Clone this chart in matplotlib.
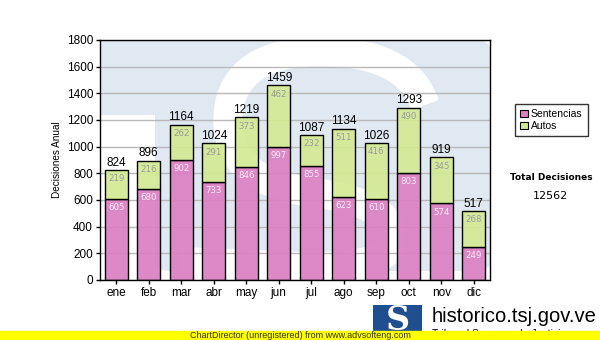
import matplotlib
matplotlib.use('Agg')
import matplotlib.pyplot as plt
from matplotlib.patches import Rectangle, FancyBboxPatch, PathPatch
from matplotlib.path import Path
from matplotlib.colors import to_rgba
import numpy as np

MONTHS = ['ene', 'feb', 'mar', 'abr', 'may', 'jun', 'jul', 'ago', 'sep', 'oct', 'nov', 'dic']
SENTENCIAS = [605, 680, 902, 733, 846, 997, 855, 623, 610, 803, 574, 249]
AUTOS = [219, 216, 262, 291, 373, 462, 232, 511, 416, 490, 345, 268]
Y_TICKS = [0, 200, 400, 600, 800, 1000, 1200, 1400, 1600, 1800]

PINK = '#dc7fc3'
GREEN = '#d3ea94'
WATERMARK = '#e0e9f2'

plt.rcParams['font.family'] = ['Liberation Sans', 'DejaVu Sans']

fig = plt.figure(figsize=(6, 3.4), dpi=100)
ax = fig.add_axes([100 / 600, 1 - 280 / 340, 390 / 600, 240 / 340])


def px(x, y):
    # pixel of the picture -> axes fraction
    return ((x - 100) / 390, (280 - y) / 240)


# watermark logo behind the bars (blue box with a white S)
ax.add_patch(Rectangle(px(100, 115), 0.2, 75 / 240, transform=ax.transAxes,
                       color=WATERMARK, lw=0, zorder=0))
box = FancyBboxPatch(px(155, 271), 335 / 390, 231 / 240, boxstyle='round,pad=0,rounding_size=0.04',
                     transform=ax.transAxes, color=WATERMARK, lw=0, zorder=0)
ax.add_patch(box)
s_pts = [(425, 105), (410, 60), (360, 50), (310, 52),
         (255, 54), (228, 80), (228, 120),
         (228, 165), (260, 185), (310, 192),
         (370, 200), (392, 215), (392, 240),
         (392, 265), (340, 268), (290, 266),
         (240, 264), (200, 262), (180, 262)]
s_codes = [Path.MOVETO] + [Path.CURVE4] * (len(s_pts) - 1)
s_path = Path([px(*p) for p in s_pts], s_codes)
s_patch = PathPatch(s_path, transform=ax.transAxes, fill=False, edgecolor='white',
                    lw=21, capstyle='butt', zorder=0.5)
ax.add_patch(s_patch)
s_patch.set_clip_path(box)

x = np.arange(len(MONTHS))
sent = np.array(SENTENCIAS)
aut = np.array(AUTOS)
total = sent + aut

ax.bar(x, sent, width=0.71, color=to_rgba(PINK, 0.92), edgecolor='black', linewidth=1,
       zorder=3, label='Sentencias')
ax.bar(x, aut, bottom=sent, width=0.71, color=to_rgba(GREEN, 0.92), edgecolor='black',
       linewidth=1, zorder=3, label='Autos')

for i in range(len(x)):
    ax.annotate(str(total[i]), (x[i], total[i]), xytext=(0, 1), textcoords='offset points',
                ha='center', va='bottom', fontsize=8.5, color='black', zorder=5)
    ax.annotate(str(sent[i]), (x[i], sent[i]), xytext=(0, -3), textcoords='offset points',
                ha='center', va='top', fontsize=6.2, color='#fbeaf6', family='DejaVu Sans', zorder=5)
    ax.annotate(str(aut[i]), (x[i], total[i]), xytext=(0, -3), textcoords='offset points',
                ha='center', va='top', fontsize=6.2, color='#9a9a9a', family='DejaVu Sans', zorder=5)

ax.set_facecolor('white')
ax.set_xlim(-0.5, 11.5)
ax.set_ylim(0, 1800)
ax.set_yticks(Y_TICKS)
ax.set_xticks(x)
ax.set_xticklabels(MONTHS)
ax.tick_params(axis='both', direction='out', length=3, width=1, labelsize=8.5, pad=2)
ax.yaxis.grid(True, color='#b8b8b8', linewidth=1, zorder=1)
ax.set_axisbelow(True)
for s in ax.spines.values():
    s.set_linewidth(1)
    s.set_zorder(6)
ax.set_ylabel('Decisiones Anual', fontsize=7.2, labelpad=3)

leg = fig.legend(loc='upper left', bbox_to_anchor=(510 / 600, 1 - 99 / 340), fontsize=7.5,
                 frameon=True, fancybox=False, edgecolor='black', handlelength=0.7,
                 handleheight=0.7, handletextpad=0.3, borderpad=0.5, labelspacing=0.15)
leg.get_frame().set_linewidth(1)
for h in leg.legend_handles:
    h.set_linewidth(0.8)
    h.set_alpha(1)

fig.text(551 / 600, 1 - 178 / 340, 'Total Decisiones', ha='center', va='center',
         fontsize=6.5, fontweight='bold', family='DejaVu Sans')
fig.text(550 / 600, 1 - 196 / 340, str(total.sum()), ha='center', va='center',
         fontsize=8, family='DejaVu Sans')

# footer: logo + site name
logo = fig.add_axes([373 / 600, 1 - 336 / 340, 49 / 600, 31 / 340])
logo.set_facecolor('#1f4f8f')
logo.set_xticks([])
logo.set_yticks([])
for s in logo.spines.values():
    s.set_visible(False)
logo.text(0.5, 0.5, 'S', color='white', fontsize=24, fontweight='bold', ha='center', va='center',
          family='DejaVu Serif', transform=logo.transAxes)
fig.text(432 / 600, 1 - 316 / 340, 'historico.tsj.gov.ve', ha='left', va='center', fontsize=14.5)
# partly hidden under the banner, as in the original
fig.text(432 / 600, 1 - 334 / 340, 'Tribunal Supremo de Justicia', ha='left', va='center',
         fontsize=7.5, zorder=1)

# unregistered banner
fig.patches.append(Rectangle((0, 0), 1, 9 / 340, transform=fig.transFigure, color='#ffff00', zorder=10))
fig.text(0.5, 4.5 / 340, 'ChartDirector (unregistered) from www.advsofteng.com', ha='center',
         va='center', fontsize=6.5, color='#333300', zorder=11)

fig.savefig('out.png', dpi=100)
